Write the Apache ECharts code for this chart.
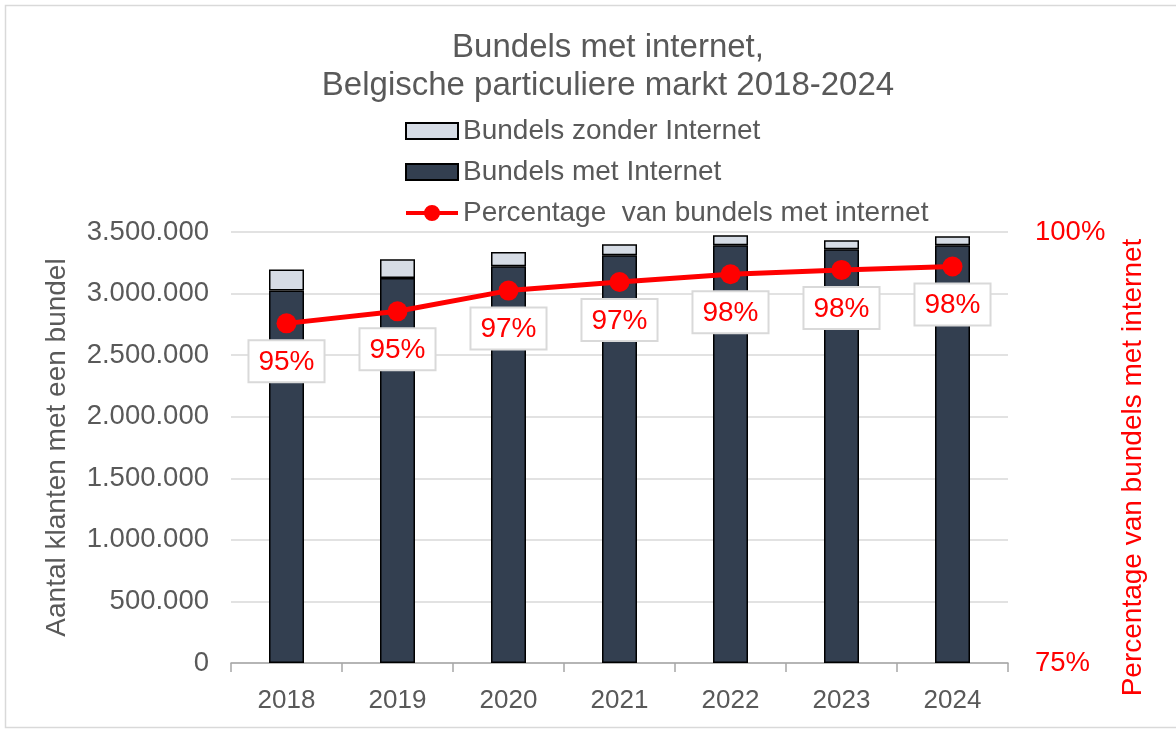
<!DOCTYPE html>
<html>
<head>
<meta charset="utf-8">
<script src="https://cdn.jsdelivr.net/npm/echarts@6/dist/echarts.min.js"></script>
<style>
  html, body { margin: 0; padding: 0; background: #fff; }
  #chart { width: 1176px; height: 731px; }
</style>
</head>
<body>
<div id="chart"></div>
<script>
// jaren en waarden
const years = ['2018', '2019', '2020', '2021', '2022', '2023', '2024']
const metInternet = [3024000, 3127000, 3222000, 3311000, 3392000, 3359000, 3392000]
const zonderInternet = [171000, 151000, 116000, 89000, 81000, 74000, 73000]
const percentage = [94.7, 95.4, 96.6, 97.1, 97.55, 97.8, 98.0]

const FONT = 'Liberation Sans'
const GREY = '#595959'

const fmtDots = (v) => String(v).replace(/\B(?=(\d{3})+(?!\d))/g, '.')

// lijn + bol als legend-icoon
const lineIcon = 'path://M0,6 L19,6 L19,10 L0,10 Z M33,6 L52,6 L52,10 L33,10 Z M34,8 A8,8 0 1 1 18,8 A8,8 0 1 1 34,8 Z'

const chart = echarts.init(document.getElementById('chart'))

chart.setOption({
  backgroundColor: '#fff',
  textStyle: { fontFamily: FONT },
  title: {
    text: 'Bundels met internet,\nBelgische particuliere markt 2018-2024',
    left: 603,
    textAlign: 'center',
    top: 24,
    textStyle: { fontFamily: FONT, fontSize: 33, fontWeight: 'normal', color: GREY, lineHeight: 38 }
  },
  legend: {
    orient: 'vertical',
    left: 405,
    top: 117,
    padding: 0,
    itemWidth: 52,
    itemHeight: 16,
    itemGap: 13,
    data: [
      { name: 'Bundels zonder Internet', icon: 'rect' },
      { name: 'Bundels met Internet', icon: 'rect' },
      { name: 'Percentage  van bundels met internet', icon: lineIcon, itemStyle: { color: '#ff0000', borderWidth: 0 } }
    ],
    textStyle: { fontFamily: FONT, fontSize: 28, color: GREY, lineHeight: 28 }
  },
  graphic: [{
    type: 'polyline',
    shape: { points: [[1176, 5.5], [5.5, 5.5], [5.5, 727.5], [1176, 727.5]] },
    style: { stroke: '#d9d9d9', lineWidth: 1.5, fill: null },
    silent: true
  }],
  grid: { left: 231, right: 168, top: 232, bottom: 68 },
  xAxis: {
    type: 'category',
    data: years,
    boundaryGap: true,
    axisLine: { lineStyle: { color: '#a6a6a6', width: 1.5 } },
    axisTick: { show: true, length: 9, lineStyle: { color: '#a6a6a6', width: 1.5 } },
    axisLabel: { color: GREY, fontSize: 26, margin: 25, fontFamily: FONT }
  },
  yAxis: [{
    type: 'value',
    min: 0,
    max: 3500000,
    interval: 500000,
    name: 'Aantal klanten met een bundel',
    nameLocation: 'middle',
    nameRotate: 90,
    nameGap: 160,
    nameTextStyle: { color: GREY, fontSize: 28, fontFamily: FONT },
    axisLine: { show: false },
    axisTick: { show: false },
    axisLabel: { color: GREY, fontSize: 27.5, margin: 22, fontFamily: FONT, formatter: fmtDots },
    splitLine: { lineStyle: { color: '#d9d9d9', width: 1.5 } }
  }, {
    type: 'value',
    position: 'right',
    min: 75,
    max: 100,
    interval: 25,
    name: 'Percentage van bundels met internet',
    nameLocation: 'middle',
    nameRotate: 90,
    nameGap: 111,
    nameTextStyle: { color: '#ff0000', fontSize: 28, fontFamily: FONT, padding: [0, 40, 0, 0] },
    axisLine: { show: false },
    axisTick: { show: false },
    splitLine: { show: false },
    axisLabel: { color: '#ff0000', fontSize: 27.5, margin: 27, fontFamily: FONT, formatter: '{value}%' }
  }],
  series: [{
    name: 'Bundels met Internet',
    type: 'bar',
    stack: 'totaal',
    barWidth: 35,
    data: metInternet,
    itemStyle: { color: '#333f50', borderColor: '#000', borderWidth: 1.5 }
  }, {
    name: 'Bundels zonder Internet',
    type: 'bar',
    stack: 'totaal',
    barWidth: 35,
    data: zonderInternet,
    itemStyle: { color: '#d6dce5', borderColor: '#000', borderWidth: 1.5 }
  }, {
    name: 'Percentage  van bundels met internet',
    type: 'line',
    yAxisIndex: 1,
    data: percentage,
    symbol: 'circle',
    symbolSize: 20,
    z: 5,
    lineStyle: { color: '#ff0000', width: 5 },
    itemStyle: { color: '#ff0000' },
    label: {
      show: true,
      position: 'bottom',
      distance: 8,
      color: '#ff0000',
      fontSize: 28,
      fontFamily: FONT,
      backgroundColor: '#fff',
      borderColor: '#d9d9d9',
      borderWidth: 2,
      padding: [7, 9, 5, 9],
      formatter: (p) => Math.round(p.value) + '%'
    }
  }]
})
</script>
</body>
</html>
